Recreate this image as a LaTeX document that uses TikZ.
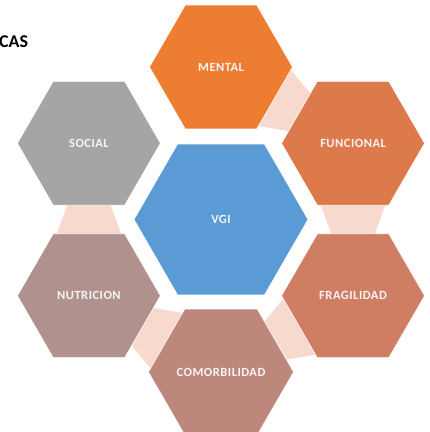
\documentclass[tikz,border=0pt]{standalone}
\usepackage{fontspec}
\setmainfont{Carlito}
\newfontfamily\hexfont[LetterSpace=4]{Carlito}
\usetikzlibrary{shapes.geometric}
\definecolor{cMental}{HTML}{ED7D31}
\definecolor{cFunc}{HTML}{DC7A4C}
\definecolor{cFrag}{HTML}{CF7E64}
\definecolor{cComor}{HTML}{BE877B}
\definecolor{cNutr}{HTML}{B1918E}
\definecolor{cSocial}{HTML}{A5A5A5}
\definecolor{cVgi}{HTML}{5B9BD5}
\definecolor{cLink}{HTML}{F8D9CE}
\tikzset{
  hexbox/.style={regular polygon, regular polygon sides=6, minimum size=143pt,
    inner sep=0pt, outer sep=0pt, draw=white, line width=0.6pt,
    text=white!96!black, font=\hexfont\bfseries\fontsize{12.5}{14}\selectfont},
  bighex/.style={hexbox, minimum size=174pt},
  linkbox/.style={fill=cLink, draw=none}
}
\begin{document}
\begin{tikzpicture}[x=1pt,y=1pt]
\useasboundingbox (-221,-212.5) rectangle (209,219.5);
% connectors
\foreach \t in {90,30,-30,-90,-150}{
  \begin{scope}[shift={(\t:152.5)}, rotate=\t-120]
    \fill[linkbox] (60,-33) -- (60,33) -- (92.5,21) -- (92.5,-21) -- cycle;
  \end{scope}
}
\node[bighex, fill=cVgi] (vgi) at (0,0) {VGI};
\node[hexbox, fill=cMental] (mental) at (90:152.5) {MENTAL};
\node[hexbox, fill=cFunc] (func) at (30:152.5) {FUNCIONAL};
\node[hexbox, fill=cFrag] (frag) at (-30:152.5) {FRAGILIDAD};
\node[hexbox, fill=cComor] (comor) at (-90:152.5) {COMORBILIDAD};
\node[hexbox, fill=cNutr] (nutr) at (-150:152.5) {NUTRICION};
\node[hexbox, fill=cSocial] (social) at (150:152.5) {SOCIAL};
\node[anchor=west, inner sep=0pt, font=\bfseries\fontsize{18}{20}\selectfont] (title) at (-222,177.5) {CAS};
\end{tikzpicture}
\end{document}
